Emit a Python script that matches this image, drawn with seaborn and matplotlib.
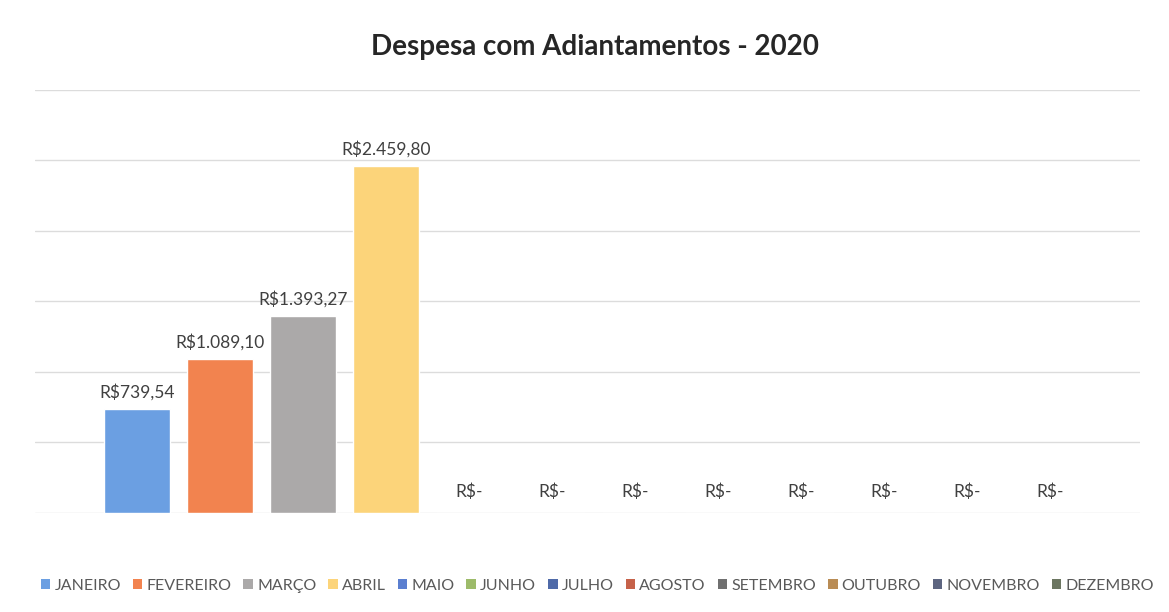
import matplotlib
matplotlib.use("Agg")
import matplotlib.pyplot as plt
from matplotlib.patches import Patch
import seaborn as sns
import pandas as pd

# data
meses = ["JANEIRO", "FEVEREIRO", "MARÇO", "ABRIL", "MAIO", "JUNHO", "JULHO",
         "AGOSTO", "SETEMBRO", "OUTUBRO", "NOVEMBRO", "DEZEMBRO"]
valores = [739.54, 1089.10, 1393.27, 2459.80, 0, 0, 0, 0, 0, 0, 0, 0]
cores = ["#6b9fe2", "#f2834f", "#aba9a9", "#fcd47a", "#5b7fd0", "#9dbb6a",
         "#4f6aa8", "#c6624a", "#707070", "#b98c55", "#5d6580", "#6c7661"]

df = pd.DataFrame({"mes": meses, "valor": valores})


def fmt_real(v):
    if v == 0:
        return "R$-"
    s = "{:,.2f}".format(v)
    s = s.replace(",", "X").replace(".", ",").replace("X", ".")
    return "R$" + s


sns.set_theme(style="white")
plt.rcParams["font.family"] = ["Lato", "DejaVu Sans"]

fig = plt.figure(figsize=(11.69, 6.12), dpi=100)
ax = fig.add_axes([0.030, 0.162, 0.945, 0.691])

sns.barplot(data=df, x="mes", y="valor", hue="mes", palette=dict(zip(meses, cores)),
            order=meses, hue_order=meses, dodge=False, legend=False, width=0.79,
            saturation=1, ax=ax)

ax.set_ylim(0, 3000)
ax.set_xlim(-1.23, 12.08)
ax.set_yticks(range(0, 3001, 500))
ax.yaxis.grid(True, color="#dcdcdc", linewidth=1)
ax.set_axisbelow(True)
ax.set_xticks([])
ax.set_yticklabels([])
ax.tick_params(left=False, bottom=False)
ax.set_xlabel("")
ax.set_ylabel("")
for s in ax.spines.values():
    s.set_visible(False)

for i, v in enumerate(valores):
    ax.annotate(fmt_real(v), (i, v), xytext=(0, 6 if v else 9), textcoords="offset points",
                ha="center", va="bottom", fontsize=12.5, color="#404040")

fig.text(0.509, 0.923, "Despesa com Adiantamentos - 2020", ha="center", va="center",
         fontsize=20, fontweight="bold", color="#262626")

handles = [Patch(facecolor=c, edgecolor="none") for c in cores]
fig.legend(handles, meses, loc="center", bbox_to_anchor=(0.511, 0.043), ncol=12,
           frameon=False, fontsize=11.5, handlelength=0.6, handleheight=0.6,
           handletextpad=0.25, columnspacing=0.75, labelcolor="#595959")

fig.savefig("out.png", dpi=100)
